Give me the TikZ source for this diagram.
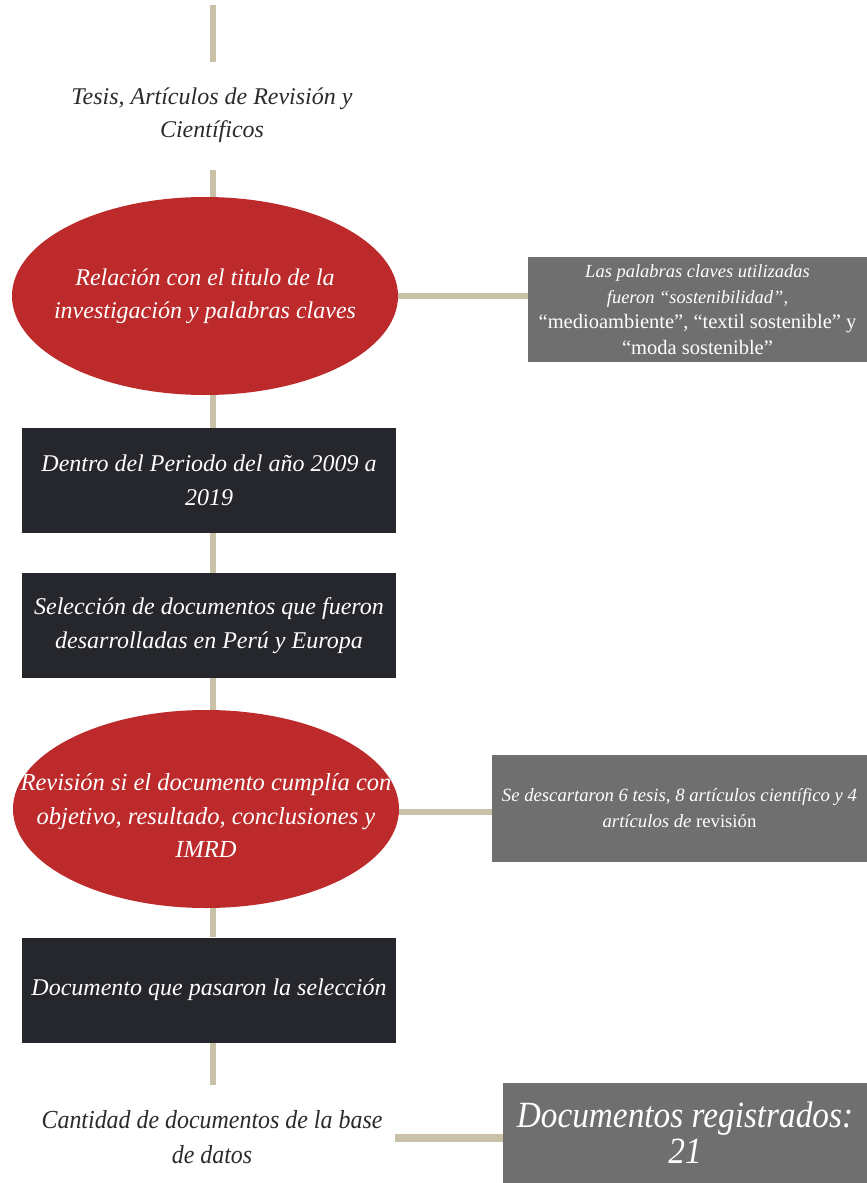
\documentclass[tikz,border=0pt]{standalone}
\usepackage{fontspec}
\setmainfont{Liberation Serif}
\usetikzlibrary{shapes.geometric}
\definecolor{tanline}{HTML}{C9C2A8}
\definecolor{darkbox}{HTML}{26272C}
\definecolor{redell}{HTML}{BC2A2B}
\definecolor{graybox}{HTML}{6F6F6F}
\definecolor{txt}{HTML}{2B2B2B}
\begin{document}
\begin{tikzpicture}[x=1pt,y=-1pt,
  link/.style={draw=tanline, line width=6pt},
  ell/.style={ellipse, fill=redell, minimum width=386pt, minimum height=198pt, inner sep=0pt},
  etext/.style={inner sep=0pt, text=white, align=center, font=\fontsize{24}{33}\selectfont\itshape},
  dbox/.style={rectangle, fill=darkbox, minimum width=374pt, minimum height=105pt, inner sep=0pt,
    text=white, align=center, font=\fontsize{24}{34}\selectfont\itshape},
  gbox/.style={rectangle, fill=graybox, inner sep=0pt, text=white, align=center},
  plain/.style={text=txt, align=center, inner sep=0pt, font=\fontsize{24}{33}\selectfont\itshape}
]
\useasboundingbox (0,0) rectangle (867,1183);
\fill[white] (0,0) rectangle (867,1183);

% nodes
\node[plain] (title) at (212,115) {Tesis, Artículos de Revisión y\\Científicos};
\node[ell] (e1) at (205,296) {};
\node[etext] (e1t) at (e1.center) {Relación con el titulo de la\\investigación y palabras claves};
\node[gbox, minimum width=339pt, minimum height=105pt,
  font=\fontsize{18.5}{25.5}\selectfont] (g1) at (697.5,309.5)
  {\textit{Las palabras claves utilizadas}\\\textit{fueron “sostenibilidad”,}\\{\fontsize{20.5}{25.5}\selectfont“medioambiente”, “textil sostenible” y}\\{\fontsize{20.5}{25.5}\selectfont“moda sostenible”}};
\node[dbox] (d1) at (209,480.5) {Dentro del Periodo del año 2009 a\\2019};
\node[dbox] (d2) at (209,625.5) {Selección de documentos que fueron\\desarrolladas en Perú y Europa};
\node[ell] (e2) at (206,809) {};
\node[etext, font=\fontsize{24.5}{33.5}\selectfont\itshape] (e2t) at ([yshift=-7pt]e2.center)
  {Revisión si el documento cumplía con\\objetivo, resultado, conclusiones y\\IMRD};
\node[gbox, minimum width=375pt, minimum height=107pt,
  font=\fontsize{18.7}{26}\selectfont] (g2) at (679.5,808.5)
  {\textit{Se descartaron 6 tesis, 8 artículos científico y 4}\\\textit{artículos de} revisión};
\node[dbox] (d3) at (209,990) {Documento que pasaron la selección};
\node[plain, font=\fontsize{26}{35}\selectfont\itshape] (bl) at (212,1137.5)
  {\scalebox{0.92}[1]{Cantidad de documentos de la base}\\\scalebox{0.92}[1]{de datos}};
\node[gbox, minimum width=364pt, minimum height=100pt,
  font=\fontsize{37}{36}\selectfont\itshape] (g3) at (685,1133)
  {\scalebox{0.9}[1]{Documentos registrados:}\\\scalebox{0.9}[1]{21}};

% spine coordinates
\coordinate (t0) at (213,5);
\coordinate (t1) at (213,62);
\coordinate (t2) at (213,170);
\coordinate (t3) at (213,1085);
\coordinate (c3) at (395,1138);
\coordinate (sp) at (213,0);

% connectors
\draw[link] (t0) -- (t1);
\draw[link] (t2) -- (t2 |- e1.north);
\draw[link] (e1.east) -- (e1.east -| g1.west);
\draw[link] (e1.south -| sp) -- (d1.north -| sp);
\draw[link] (d1.south -| sp) -- (d2.north -| sp);
\draw[link] (d2.south -| sp) -- (e2.north -| sp);
\draw[link] ([yshift=-3pt]e2.east) -- ([yshift=-3pt]e2.east -| g2.west);
\draw[link] (e2.south -| sp) -- (d3.north -| sp);
\draw[link] (d3.south -| sp) -- (t3);
\draw[link, line width=8pt] (c3) -- (c3 -| g3.west);
\end{tikzpicture}
\end{document}
